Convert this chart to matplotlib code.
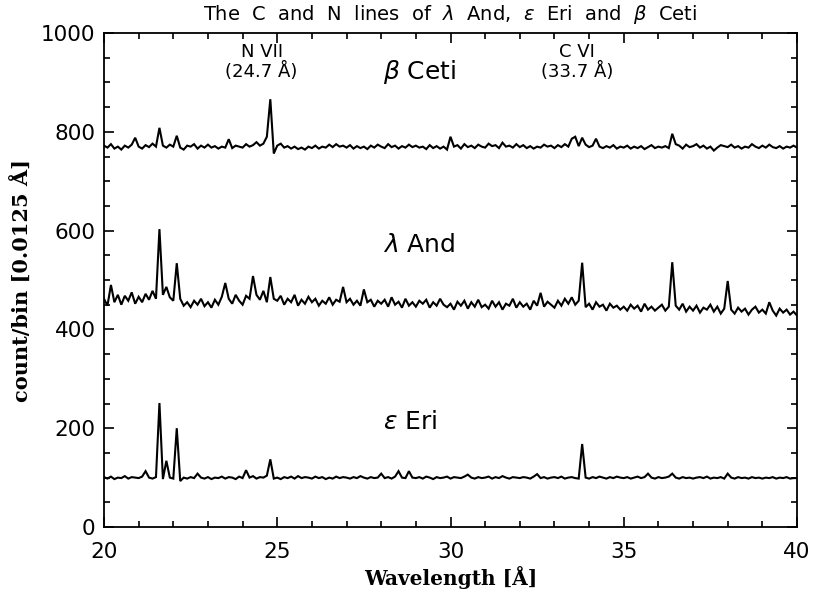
import numpy as np
import matplotlib
matplotlib.use("Agg")
import matplotlib.pyplot as plt
from matplotlib.ticker import MultipleLocator

# Wavelength grid (Angstrom), 0.1 A steps from 20.0 to 40.0
wavelength = np.round(np.arange(20.0, 40.0001, 0.1), 2)

beta_ceti = [
    772, 768, 775, 766, 770, 764, 772, 768, 774, 788,
    770, 766, 773, 769, 776, 770, 808, 772, 768, 774,
    770, 792, 768, 764, 772, 770, 775, 766, 772, 768,
    774, 768, 771, 766, 770, 768, 785, 767, 772, 770,
    768, 775, 770, 773, 779, 772, 776, 790, 866, 756,
    772, 776, 768, 771, 766, 770, 765, 768, 764, 770,
    767, 772, 766, 770, 768, 774, 769, 775, 770, 772,
    768, 773, 766, 771, 767, 770, 765, 772, 768, 774,
    770, 767, 775, 769, 772, 766, 771, 768, 774, 769,
    772, 768, 770, 765, 773, 767, 771, 766, 770, 764,
    790, 770, 773, 766, 775, 769, 772, 767, 774, 770,
    768, 776, 771, 773, 767, 778, 770, 772, 768, 775,
    769, 773, 767, 771, 766, 770, 768, 774, 770, 772,
    767, 773, 769, 775, 770, 786, 790, 771, 788, 774,
    769, 772, 786, 770, 767, 771, 768, 773, 766, 770,
    768, 772, 766, 770, 767, 771, 765, 769, 773, 767,
    770, 768, 771, 767, 796, 775, 772, 766, 774, 769,
    771, 775, 768, 772, 766, 770, 762, 768, 773, 771,
    769, 774, 768, 771, 766, 770, 768, 775, 770, 767,
    772, 768, 774, 769, 767, 771, 766, 770, 768, 772,
    768,
]

lambda_and = [
    462, 448, 490, 455, 470, 450, 468, 458, 475, 452,
    466, 455, 472, 460, 478, 462, 603, 470, 486, 465,
    458, 534, 462, 448, 455, 445, 458, 450, 462, 447,
    455, 444, 460, 450, 466, 494, 462, 452, 470, 458,
    450, 468, 462, 508, 470, 460, 478, 455, 506, 462,
    458, 468, 450, 462, 455, 470, 448, 460, 452, 466,
    455, 462, 448, 458, 452, 465, 450, 460, 456, 486,
    455, 462, 450, 458, 448, 481, 455, 460, 446, 458,
    452, 460, 446, 465, 450, 456, 444, 462, 448, 455,
    446, 458, 452, 460, 444, 455, 448, 462, 450, 445,
    452, 440, 456, 448, 458, 442, 455, 446, 460, 445,
    450, 442, 458, 446, 455, 440, 452, 448, 462, 444,
    455, 446, 452, 440, 458, 448, 474, 446, 456, 450,
    444, 458, 448, 462, 452, 465, 450, 458, 535, 445,
    452, 440, 455, 446, 450, 438, 452, 444, 448, 440,
    446, 438, 450, 442, 448, 436, 452, 440, 446, 438,
    444, 450, 438, 446, 536, 448, 440, 452, 436, 446,
    438, 448, 434, 444, 440, 450, 436, 446, 432, 442,
    498, 440, 432, 444, 436, 442, 430, 440, 446, 434,
    440, 432, 455, 438, 428, 442, 434, 440, 430, 436,
    428,
]

epsilon_eri = [
    101, 98, 102, 97, 100, 99, 103, 98, 101, 100,
    99, 102, 113, 100, 98, 101, 251, 97, 134, 100,
    98, 200, 93, 100, 98, 101, 99, 108, 100, 98,
    101, 97, 100, 99, 102, 98, 101, 100, 97, 102,
    99, 115, 100, 103, 98, 101, 100, 104, 137, 98,
    100, 97, 101, 99, 102, 98, 103, 99, 101, 100,
    98, 102, 99, 101, 97, 100, 98, 102, 99, 101,
    100, 98, 101, 99, 103, 100, 98, 101, 99, 100,
    108, 99, 101, 98, 102, 113, 100, 99, 113, 100,
    99, 101, 98, 102, 100, 97, 101, 99, 100, 102,
    98, 101, 100, 99, 102, 106, 100, 98, 101, 99,
    100, 102, 98, 101, 99, 103, 100, 98, 101, 100,
    99, 101, 100, 98, 102, 107, 99, 101, 98, 100,
    101, 99, 102, 98, 100, 101, 99, 98, 168, 100,
    98, 101, 99, 102, 100, 98, 101, 99, 102, 100,
    99, 101, 98, 100, 102, 99, 101, 108, 100, 98,
    101, 99, 100, 102, 108, 100, 98, 101, 99, 100,
    98, 100, 101, 99, 102, 98, 100, 99, 101, 98,
    108, 100, 98, 101, 99, 100, 98, 101, 99, 100,
    98, 100, 99, 101, 98, 100, 99, 101, 98, 99,
    99,
]

star_names = [r"$\beta$ Ceti", r"$\lambda$ And", r"$\epsilon$ Eri"]
line_labels = ["N VII\n(24.7 Å)", "C VI\n(33.7 Å)"]
title = r"The  C  and  N  lines  of  $\lambda$  And,  $\epsilon$  Eri  and  $\beta$  Ceti"

plt.rcParams['mathtext.fontset'] = 'dejavusans'
fig = plt.figure(figsize=(8.3, 5.93), dpi=100)
ax = fig.add_axes([104/830, 1 - 527/593, (797 - 104)/830, (527 - 33)/593])

for series in (beta_ceti, lambda_and, epsilon_eri):
    ax.plot(wavelength, series, color='black', lw=1.5, solid_joinstyle='miter')

ax.set_xlim(20, 40)
ax.set_ylim(0, 1000)
ax.xaxis.set_major_locator(MultipleLocator(5))
ax.xaxis.set_minor_locator(MultipleLocator(1))
ax.yaxis.set_major_locator(MultipleLocator(200))
ax.yaxis.set_minor_locator(MultipleLocator(50))
ax.tick_params(which='both', direction='in', top=True, right=True, width=1.2)
ax.tick_params(which='major', length=7.5)
ax.tick_params(which='minor', length=4.3)
ax.tick_params(axis='x', which='major', pad=11, labelsize=15.5)
ax.tick_params(axis='y', which='major', pad=6, labelsize=15.5)
for s in ax.spines.values():
    s.set_linewidth(1.3)

ax.set_xlabel("Wavelength [Å]", family='DejaVu Serif', weight='bold', fontsize=14.5, labelpad=3)
ax.set_ylabel("count/bin [0.0125 Å]", family='DejaVu Serif', weight='bold', fontsize=15, labelpad=6)
ax.set_title(title, fontsize=14, pad=9)

ax.text(24.55, 942, line_labels[0], ha='center', va='center', fontsize=13, linespacing=1.05)
ax.text(33.65, 942, line_labels[1], ha='center', va='center', fontsize=13, linespacing=1.05)
ax.text(28.05, 921, star_names[0], ha='left', va='center', fontsize=18)
ax.text(28.05, 571, star_names[1], ha='left', va='center', fontsize=18)
ax.text(28.05, 213, star_names[2], ha='left', va='center', fontsize=18)

fig.savefig("out.png", dpi=100)
